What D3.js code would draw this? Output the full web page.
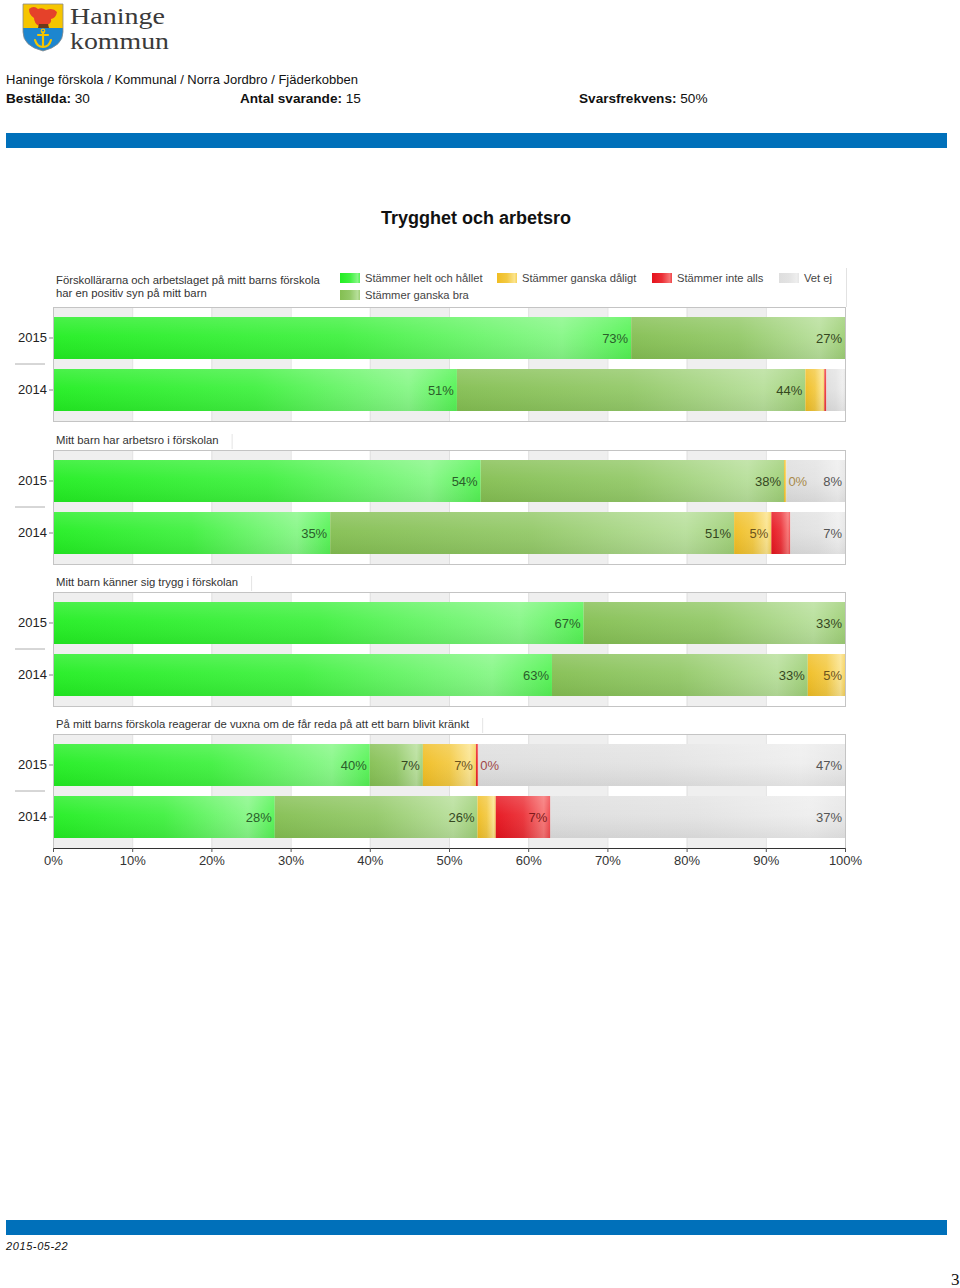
<!DOCTYPE html>
<html><head><meta charset="utf-8">
<script src="https://cdn.jsdelivr.net/npm/d3@7"></script>
<style>body{margin:0;background:#fff} svg{display:block;font-family:"Liberation Sans",Arial,Helvetica,sans-serif}</style>
</head><body><svg id="c" width="960" height="1288"></svg>
<script>
// ---------- data ----------
const categories = ["Stämmer helt och hållet", "Stämmer ganska bra", "Stämmer ganska dåligt", "Stämmer inte alls", "Vet ej"];
const years = ["2015", "2014"];
const questions = [
  ["Förskollärarna och arbetslaget på mitt barns förskola", "har en positiv syn på mitt barn"],
  ["Mitt barn har arbetsro i förskolan"],
  ["Mitt barn känner sig trygg i förskolan"],
  ["På mitt barns förskola reagerar de vuxna om de får reda på att ett barn blivit kränkt"]
];
// values per question: [2015 row, 2014 row], order = categories
const q1Values = [[73, 27, 0, 0, 0], [51, 44, 2.4, 0.25, 2.35]];
const q2Values = [[54, 38.3, 0.3, 0, 7.4], [35, 51, 4.7, 2.4, 6.9]];
const q3Values = [[67, 33, 0, 0, 0], [63, 32.3, 4.7, 0, 0]];
const q4Values = [[40, 6.7, 6.7, 0.3, 46.3], [28, 25.6, 2.3, 6.9, 37.2]];
// segment labels shown on the chart ("" = no label)
const q1Labels = [["73%", "27%", "", "", ""], ["51%", "44%", "", "", ""]];
const q2Labels = [["54%", "38%", "0%", "", "8%"], ["35%", "51%", "5%", "", "7%"]];
const q3Labels = [["67%", "33%", "", "", ""], ["63%", "33%", "5%", "", ""]];
const q4Labels = [["40%", "7%", "7%", "0%", "47%"], ["28%", "26%", "", "7%", "37%"]];
const xTicks = [0, 10, 20, 30, 40, 50, 60, 70, 80, 90, 100];
const headerPath = "Haninge förskola / Kommunal / Norra Jordbro / Fjäderkobben";
const stats = [["Beställda:", "30"], ["Antal svarande:", "15"], ["Svarsfrekvens:", "50%"]];
const chartTitle = "Trygghet och arbetsro";
const dateText = "2015-05-22";
const pageNo = "3";

const allValues = [q1Values, q2Values, q3Values, q4Values];
const allLabels = [q1Labels, q2Labels, q3Labels, q4Labels];

// ---------- styles ----------
const baseCol = ["#22ee22", "#84bf52", "#f0bd22", "#e6121c", "#dedede"];
const lightCol = ["#86f786", "#b7df9a", "#fbe48e", "#f77474", "#eeeeee"];
const labelCol = ["#2b5e2b", "#35471f", "#6b531c", "#7d1a1a", "#555555"];
const zeroLabelCol = ["#2b5e2b", "#35471f", "#a88a4a", "#a04848", "#555555"];

const svg = d3.select("#c");
const defs = svg.append("defs");
categories.forEach((c, i) => {
  const g = defs.append("linearGradient").attr("id", "g" + i).attr("x1", 0).attr("x2", 1).attr("y1", 0).attr("y2", 0);
  g.append("stop").attr("offset", "0%").attr("stop-color", baseCol[i]);
  g.append("stop").attr("offset", "50%").attr("stop-color", d3.interpolateRgb(baseCol[i], lightCol[i])(0.3));
  g.append("stop").attr("offset", "88%").attr("stop-color", lightCol[i]);
  g.append("stop").attr("offset", "100%").attr("stop-color", d3.interpolateRgb(baseCol[i], lightCol[i])(0.5));
});
const gl = defs.append("linearGradient").attr("id", "gloss").attr("x1", 0).attr("x2", 0).attr("y1", 0).attr("y2", 1);
gl.append("stop").attr("offset", "0%").attr("stop-color", "#fff").attr("stop-opacity", 0.18);
gl.append("stop").attr("offset", "45%").attr("stop-color", "#fff").attr("stop-opacity", 0.05);
gl.append("stop").attr("offset", "100%").attr("stop-color", "#000").attr("stop-opacity", 0.06);

// ---------- header ----------
const logo = svg.append("g").attr("transform", "translate(23,4)");
const shield = "M0,0 H40 V28 Q40,42 20,47 Q0,42 0,28 Z";
defs.append("clipPath").attr("id", "shieldClip").append("path").attr("d", shield);
const lg = logo.append("g").attr("clip-path", "url(#shieldClip)");
lg.append("rect").attr("width", 40).attr("height", 24).attr("fill", "#f6c500");
lg.append("rect").attr("y", 24).attr("width", 40).attr("height", 26).attr("fill", "#1d86cf");
// bird
lg.append("path").attr("fill", "#e5412a")
  .attr("d", "M6,5 Q11,1 15,5 Q19,3 23,6 Q30,3 34,8 Q33,14 28,15 Q29,19 24,21 L21,22 L16,22 Q11,19 11,14 Q6,11 6,5 Z");
lg.append("path").attr("fill", "#6a3a1a").attr("d", "M16,20 L15,24 L26,24 L25,20 Z");
// anchor
const an = lg.append("g").attr("stroke", "#f6c500").attr("fill", "none").attr("stroke-width", 2.2).attr("stroke-linecap", "round");
an.append("line").attr("x1", 20).attr("x2", 20).attr("y1", 28).attr("y2", 42);
an.append("line").attr("x1", 15).attr("x2", 25).attr("y1", 31).attr("y2", 31);
an.append("path").attr("d", "M12,36 Q14,43 20,43 Q26,43 28,36");
lg.append("circle").attr("cx", 20).attr("cy", 27).attr("r", 1.8).attr("fill", "none").attr("stroke", "#f6c500").attr("stroke-width", 1.2);
logo.append("path").attr("d", shield).attr("fill", "none").attr("stroke", "#8a8a8a").attr("stroke-width", 0.8);

svg.append("text").attr("x", 70).attr("y", 24).attr("font-family", "'Liberation Serif','DejaVu Serif',serif")
  .attr("font-size", 22.5).attr("fill", "#3a3a3a").attr("textLength", 95).attr("lengthAdjust", "spacingAndGlyphs").text("Haninge");
svg.append("text").attr("x", 70).attr("y", 49).attr("font-family", "'Liberation Serif','DejaVu Serif',serif")
  .attr("font-size", 22.5).attr("fill", "#3a3a3a").attr("textLength", 99).attr("lengthAdjust", "spacingAndGlyphs").text("kommun");

svg.append("text").attr("x", 6).attr("y", 84).attr("font-size", 13).attr("fill", "#111").text(headerPath);
const statX = [6, 240, 579];
stats.forEach((s, i) => {
  const t = svg.append("text").attr("x", statX[i]).attr("y", 103).attr("font-size", 13.6).attr("fill", "#111");
  t.append("tspan").attr("font-weight", "bold").text(s[0]);
  t.append("tspan").text(" " + s[1]);
});
svg.append("rect").attr("x", 6).attr("y", 133).attr("width", 941).attr("height", 15).attr("fill", "#0070ba");

svg.append("text").attr("x", 476).attr("y", 224).attr("text-anchor", "middle").attr("font-size", 18)
  .attr("font-weight", "bold").attr("fill", "#111").text(chartTitle);

// ---------- chart ----------
const x = d3.scaleLinear().domain([0, 100]).range([53, 845]);
const panelTops = [307, 450, 592, 734];
const panelH = 114;

// legend
const legendPos = [[340, 278], [340, 295], [497, 278], [652, 278], [779, 278]];
svg.append("line").attr("x1", 846.5).attr("x2", 846.5).attr("y1", 268).attr("y2", 307).attr("stroke", "#e2e2e2");
categories.forEach((c, i) => {
  const [lx, ly] = legendPos[i];
  svg.append("rect").attr("x", lx).attr("y", ly - 5).attr("width", 20).attr("height", 10).attr("fill", `url(#g${i})`);
  svg.append("text").attr("x", lx + 25).attr("y", ly + 4).attr("font-size", 11.2).attr("fill", "#444").text(c);
});

allValues.forEach((vals, qi) => {
  const top = panelTops[qi];
  const y = d3.scaleBand().domain(years).range([top, top + panelH]).paddingInner(0.1923).paddingOuter(0.1923);
  const g = svg.append("g");

  // title
  const q = questions[qi];
  const titleY = qi === 0 ? 284 : top - 6;
  const tt = g.append("text").attr("font-size", 11.3).attr("fill", "#333");
  q.forEach((line, li) => tt.append("tspan").attr("x", 56).attr("y", titleY + li * 13).text(line));
  if (qi > 0) {
    const w = tt.node().getComputedTextLength();
    g.append("line").attr("x1", 56 + w + 13.5).attr("x2", 56 + w + 13.5).attr("y1", top - 16).attr("y2", top - 1)
      .attr("stroke", "#e4e4e4");
  }

  // alternate bands and grid
  g.selectAll("rect.band").data(xTicks.slice(0, -1).filter((d, i) => i % 2 === 0)).join("rect")
    .attr("x", d => x(d)).attr("y", top).attr("width", d => x(d + 10) - x(d)).attr("height", panelH)
    .attr("fill", "#efefef");
  g.selectAll("line.grid").data(xTicks).join("line")
    .attr("x1", d => x(d) + 0.5).attr("x2", d => x(d) + 0.5).attr("y1", top).attr("y2", top + panelH)
    .attr("stroke", "#e0e0e0");

  // bars
  vals.forEach((row, ri) => {
    const yr = years[ri];
    let cum = 0;
    const segs = row.map((v, ci) => { const s = { v, ci, x0: cum, x1: cum + v, label: allLabels[qi][ri][ci] }; cum += v; return s; });
    const bg = g.append("g");
    bg.selectAll("rect.seg").data(segs.filter(s => s.v > 0)).join("rect")
      .attr("x", s => x(s.x0)).attr("y", y(yr)).attr("width", s => Math.max(1, x(s.x1) - x(s.x0)))
      .attr("height", y.bandwidth()).attr("fill", s => `url(#g${s.ci})`);
    bg.append("rect").attr("x", x(0)).attr("y", y(yr)).attr("width", x(cum) - x(0)).attr("height", y.bandwidth())
      .attr("fill", "url(#gloss)");
    bg.selectAll("text.lab").data(segs.filter(s => s.label)).join("text")
      .attr("x", s => s.v < 1 ? x(s.x1) + 2 : x(s.x1) - 3)
      .attr("y", y(yr) + y.bandwidth() / 2 + 5)
      .attr("text-anchor", s => s.v < 1 ? "start" : "end")
      .attr("font-size", 13)
      .attr("fill", s => s.v < 1 ? zeroLabelCol[s.ci] : labelCol[s.ci])
      .text(s => s.label);
  });

  // separator between years
  g.append("line").attr("x1", 15).attr("x2", 45).attr("y1", top + panelH / 2).attr("y2", top + panelH / 2)
    .attr("stroke", "#9a9a9a").attr("stroke-width", 0.8);

  // frame
  g.append("rect").attr("x", x(0) + 0.5).attr("y", top + 0.5).attr("width", x(100) - x(0)).attr("height", panelH)
    .attr("fill", "none").attr("stroke", "#c4c4c4");

  // y axis
  const ya = g.append("g").attr("transform", `translate(${x(0)},0)`).call(d3.axisLeft(y).tickSize(4).tickPadding(2));
  ya.select(".domain").remove();
  ya.selectAll("line").attr("stroke", "#888");
  ya.selectAll("text").attr("font-size", 13).attr("fill", "#222").attr("font-family", "'Liberation Sans',Arial,sans-serif");

  if (qi === allValues.length - 1) {
    const xa = g.append("g").attr("transform", `translate(0,${top + panelH})`)
      .call(d3.axisBottom(x).tickValues(xTicks).tickFormat(d => d + "%").tickSize(4).tickSizeOuter(0).tickPadding(4));
    xa.select(".domain").attr("stroke", "#333");
    xa.selectAll("line").attr("stroke", "#555");
    xa.selectAll("text").attr("font-size", 13).attr("fill", "#333").attr("font-family", "'Liberation Sans',Arial,sans-serif");
  }
});

// ---------- footer ----------
svg.append("rect").attr("x", 6).attr("y", 1220).attr("width", 941).attr("height", 15).attr("fill", "#0070ba");
svg.append("text").attr("x", 6).attr("y", 1250).attr("font-size", 11).attr("font-style", "italic")
  .attr("letter-spacing", 0.6).attr("fill", "#111").text(dateText);
svg.append("text").attr("x", 951).attr("y", 1285).attr("font-size", 17)
  .attr("font-family", "'Liberation Serif','DejaVu Serif',serif").attr("fill", "#111").text(pageNo);
</script></body></html>
